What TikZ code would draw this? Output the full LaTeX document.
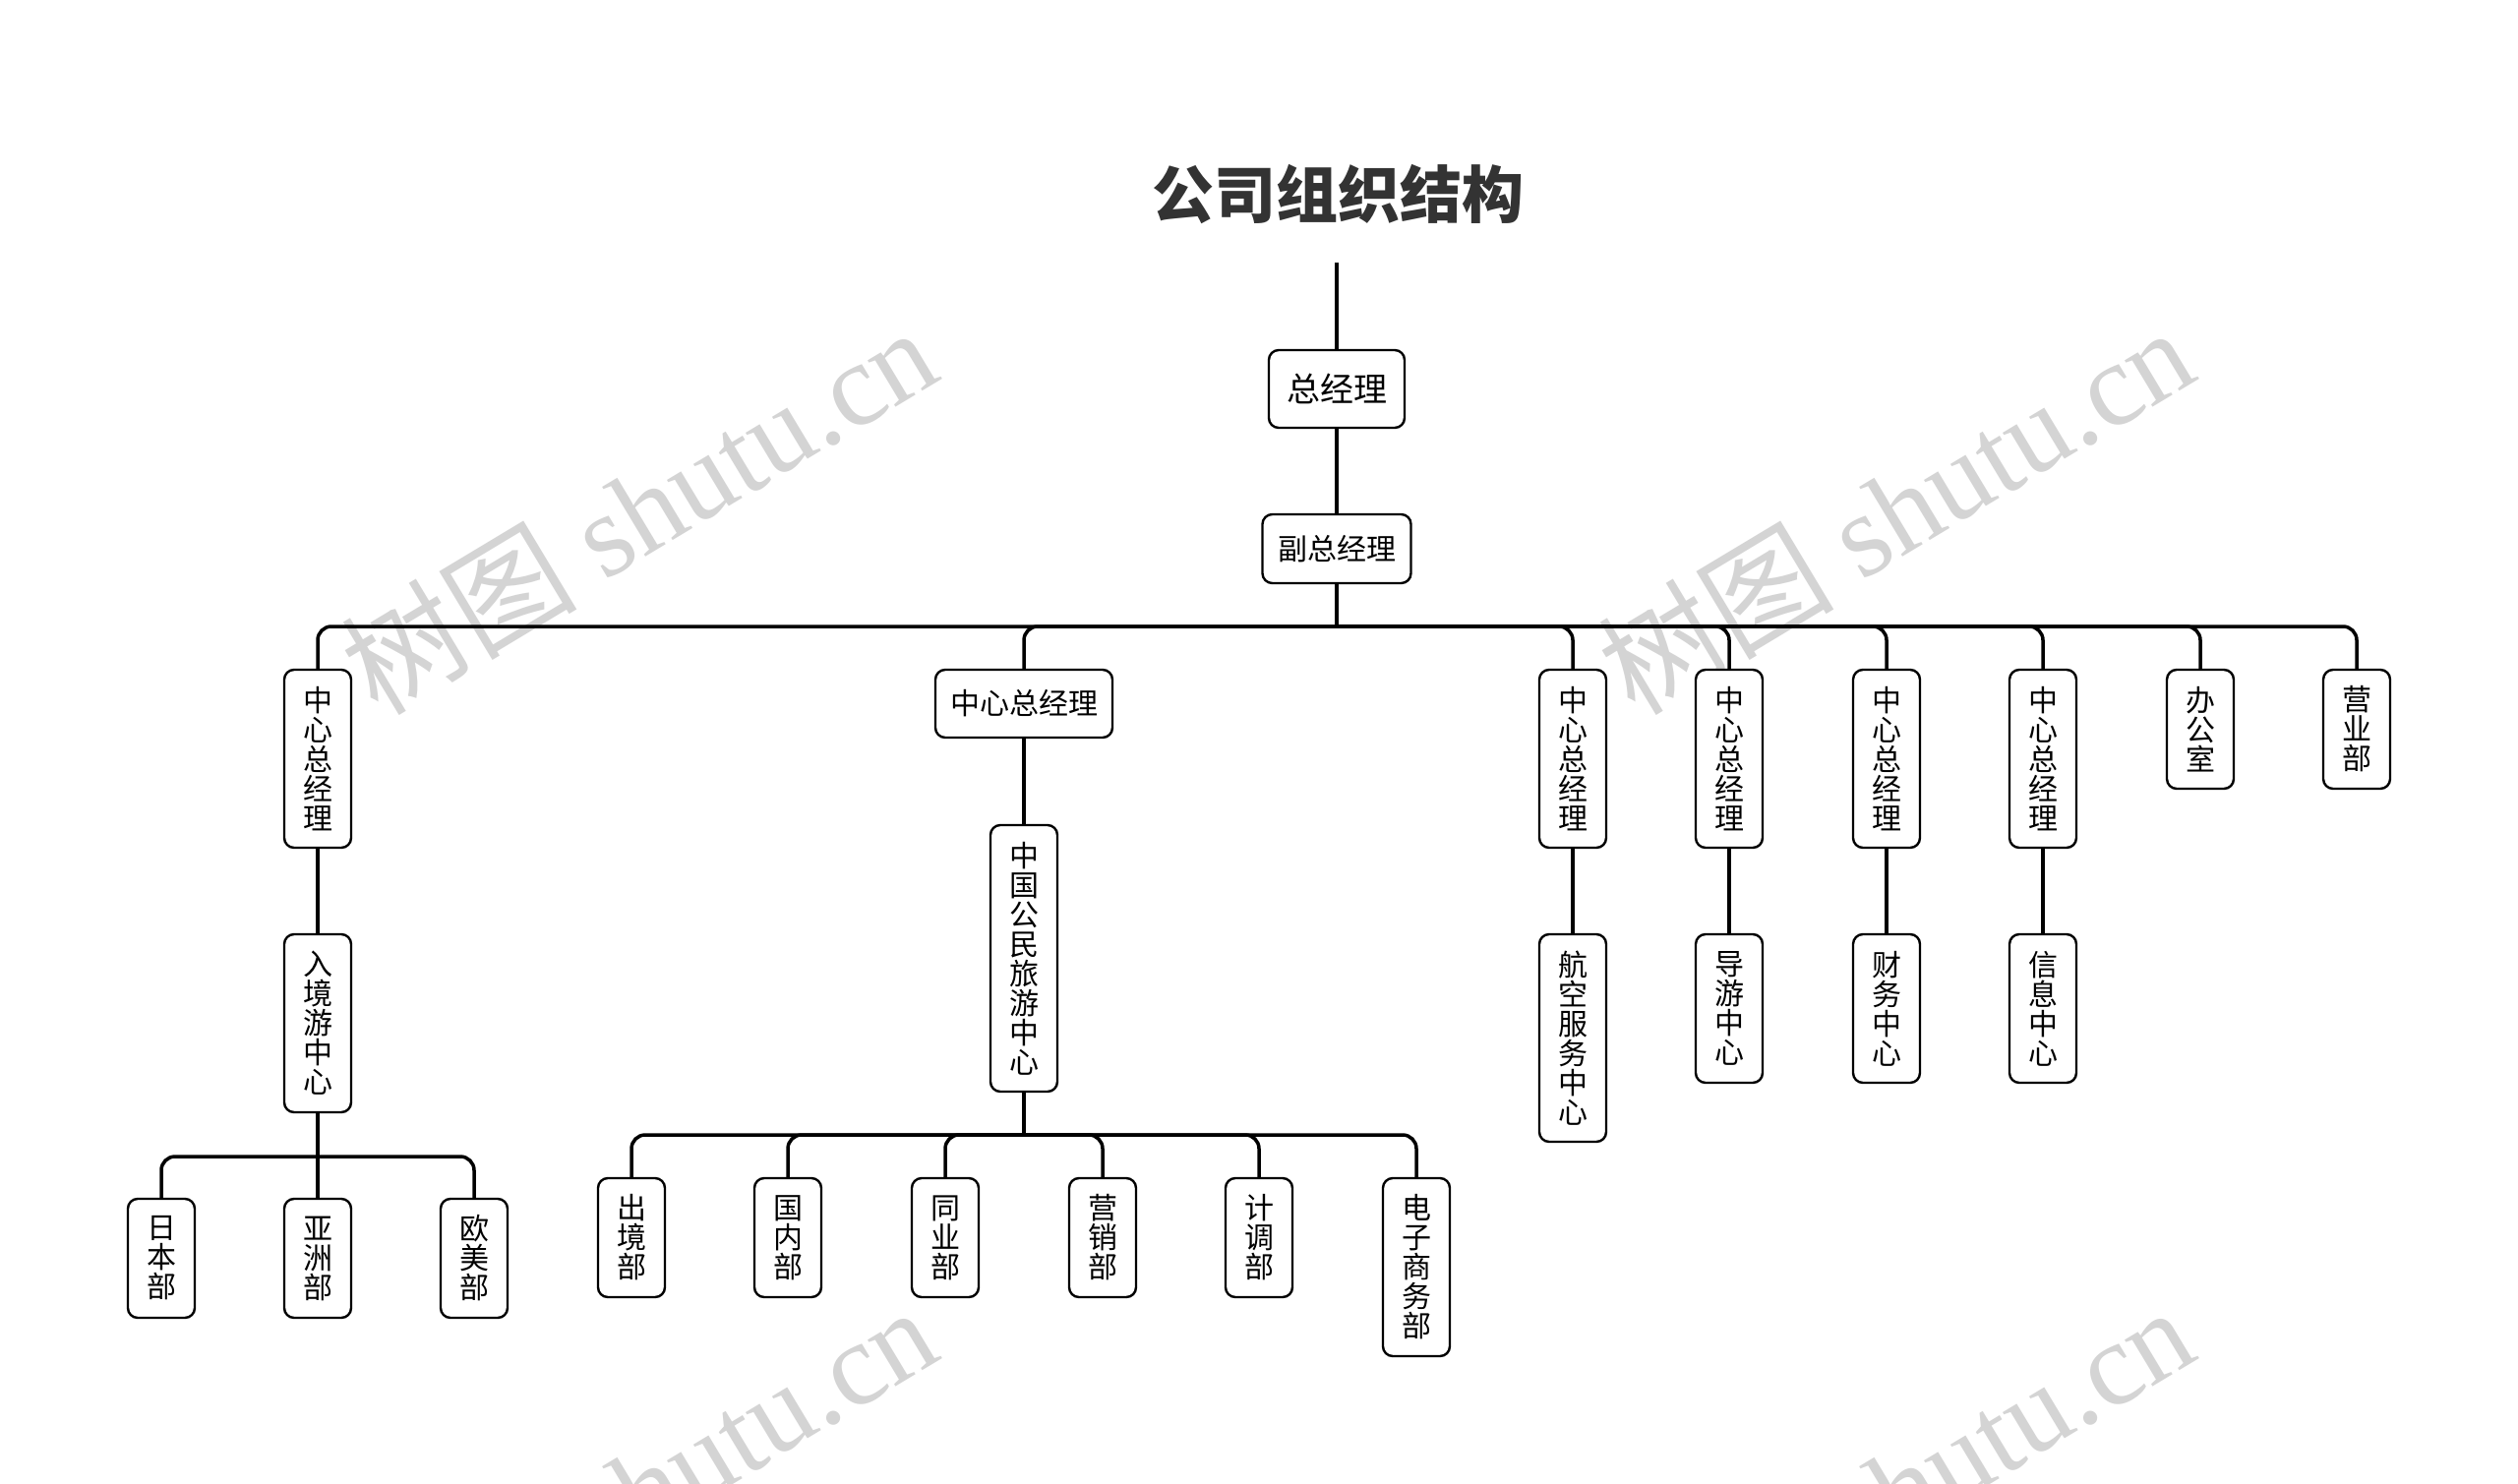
\documentclass[tikz,border=0pt]{standalone}
\usepackage{fontspec}
\newfontfamily\cjk{Noto Sans CJK SC}
\newfontfamily\wmlat{Liberation Serif}
\definecolor{wmgray}{RGB}{212,212,212}
\definecolor{titlegray}{RGB}{51,51,51}
\begin{document}
\begin{tikzpicture}[x=0.5pt,y=-0.5pt,
  box/.style={draw=black, line width=1.2pt, rounded corners=5pt, fill=white, inner sep=0pt,
    font=\cjk\fontsize{15pt}{15pt}\selectfont, text=black, align=center},
  vbox/.style={box, minimum width=34pt, minimum height={15pt*#1+15.5pt}},
  hbox/.style={box, minimum height=34.5pt},
  conn/.style={line width=1.75pt, draw=black},
  branch/.style={conn, rounded corners=7pt},
  wm/.style={rotate=31, text=wmgray, inner sep=0pt, font=\fontsize{60pt}{60pt}\selectfont}
]
\useasboundingbox (0,0) rectangle (2560,1509);
\clip (0,0) rectangle (2560,1509);
\fill[white] (0,0) rectangle (2560,1509);

% watermarks
\node[wm] (w1) at (649,518) {{\cjk 树图}\hspace{14pt}{\wmlat shutu.cn}};
\node[wm] (w2) at (1927,518) {{\cjk 树图}\hspace{14pt}{\wmlat shutu.cn}};
\node[wm] (w3) at (649,1514) {{\cjk 树图}\hspace{14pt}{\wmlat shutu.cn}};
\node[wm] (w4) at (1927,1514) {{\cjk 树图}\hspace{14pt}{\wmlat shutu.cn}};

% title
\node[font=\cjk\bfseries\fontsize{31.5pt}{31.5pt}\selectfont, text=titlegray, inner sep=0pt] (title) at (1360,198) {公司组织结构};

% top levels
\node[box, minimum width=69pt, minimum height=39.5pt, font=\cjk\fontsize{17pt}{17pt}\selectfont] (n0) at (1359,395.5) {总经理};
\node[box, minimum width=75.5pt, minimum height=35pt] (n1) at (1359,558) {副总经理};

% level 2
\node[vbox=5] (a1) at (323,771.5) {中\\心\\总\\经\\理};
\node[hbox, minimum width=90pt] (a2) at (1041,715.5) {中心总经理};
\node[vbox=5] (a3) at (1599,771.5) {中\\心\\总\\经\\理};
\node[vbox=5] (a4) at (1758,771.5) {中\\心\\总\\经\\理};
\node[vbox=5] (a5) at (1918,771.5) {中\\心\\总\\经\\理};
\node[vbox=5] (a6) at (2077,771.5) {中\\心\\总\\经\\理};
\node[vbox=3] (a7) at (2237,741.5) {办\\公\\室};
\node[vbox=3] (a8) at (2396,741.5) {营\\业\\部};

% level 3
\node[vbox=5] (b1) at (323,1040.5) {入\\境\\游\\中\\心};
\node[vbox=8] (b2) at (1041,974.5) {中\\国\\公\\民\\旅\\游\\中\\心};
\node[vbox=6] (b3) at (1599,1055.5) {航\\空\\服\\务\\中\\心};
\node[vbox=4] (b4) at (1758,1025.5) {导\\游\\中\\心};
\node[vbox=4] (b5) at (1918,1025.5) {财\\务\\中\\心};
\node[vbox=4] (b6) at (2077,1025.5) {信\\息\\中\\心};

% level 4
\node[vbox=3] (c1) at (164,1279.5) {日\\本\\部};
\node[vbox=3] (c2) at (323,1279.5) {亚\\洲\\部};
\node[vbox=3] (c3) at (482,1279.5) {欧\\美\\部};
\node[vbox=3] (d1) at (642,1258.5) {出\\境\\部};
\node[vbox=3] (d2) at (801,1258.5) {国\\内\\部};
\node[vbox=3] (d3) at (961,1258.5) {同\\业\\部};
\node[vbox=3] (d4) at (1121,1258.5) {营\\销\\部};
\node[vbox=3] (d5) at (1280,1258.5) {计\\调\\部};
\node[vbox=5] (d6) at (1440,1288.5) {电\\子\\商\\务\\部};

% connectors
\coordinate (top) at (1359,267);
\coordinate (bus) at (1359,637);
\coordinate (busL) at (323,1176);
\coordinate (busR) at (1041,1154);

\draw[conn] (top) -- (n0.north);
\draw[conn] (n0.south) -- (n1.north);
\draw[conn] (n1.south) -- (bus);
\foreach \c in {a1,a2,a3,a4,a5,a6,a7,a8}
  \draw[branch] (bus) -- (bus -| \c.north) -- (\c.north);

\foreach \p/\c in {a1/b1,a2/b2,a3/b3,a4/b4,a5/b5,a6/b6}
  \draw[conn] (\p.south) -- (\c.north);

\draw[conn] (b1.south) -- (busL);
\draw[conn] (busL) -- (c2.north);
\foreach \c in {c1,c3}
  \draw[branch] (busL) -- (busL -| \c.north) -- (\c.north);

\draw[conn] (b2.south) -- (busR);
\foreach \c in {d1,d2,d3,d4,d5,d6}
  \draw[branch] (busR) -- (busR -| \c.north) -- (\c.north);
\end{tikzpicture}
\end{document}
